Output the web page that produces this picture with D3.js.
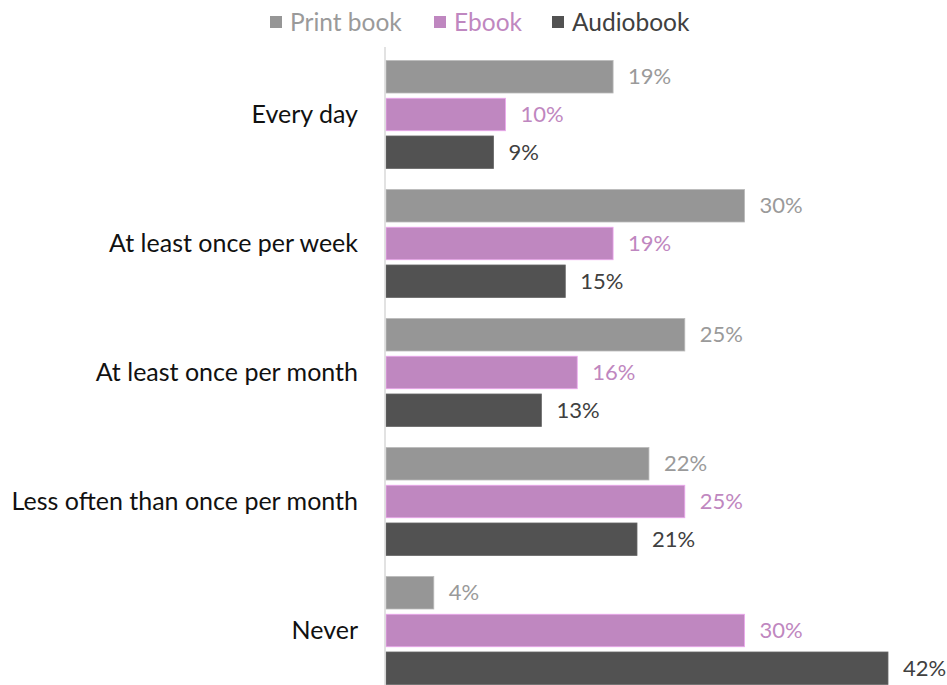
<!DOCTYPE html>
<html>
<head>
<meta charset="utf-8">
<script src="https://cdn.jsdelivr.net/npm/d3@7"></script>
<style>
  html, body { margin: 0; padding: 0; background: #fff; }
  svg text { font-family: Lato, "Open Sans", sans-serif; }
</style>
</head>
<body>
<svg id="chart" width="947" height="685"></svg>
<script>
// Reading frequency by format (share of respondents, %)
const categories = [
  "Every day",
  "At least once per week",
  "At least once per month",
  "Less often than once per month",
  "Never"
];
const seriesNames = ["Print book", "Ebook", "Audiobook"];
const printBook = [19, 30, 25, 22, 4];
const ebook     = [10, 19, 16, 25, 30];
const audiobook = [9, 15, 13, 21, 42];

const seriesValues = [printBook, ebook, audiobook];
const barColors   = ["#969696", "#bf87c0", "#525252"];
const labelColors = ["#9a9a9a", "#bf87c0", "#404040"];

const svg = d3.select("#chart");
const x0 = 386;

const x = d3.scaleLinear().domain([0, 42]).range([x0, x0 + 502]);
const y = d3.scaleBand().domain(categories).range([50, 695]).paddingInner(0).paddingOuter(0);
const yInner = d3.scaleBand().domain(seriesNames).range([10.5, y.bandwidth() - 10.5]).paddingInner(5 / 36).paddingOuter(0);

// bars and value labels
categories.forEach((cat, ci) => {
  const g = svg.append("g").attr("transform", `translate(0,${y(cat)})`);
  seriesNames.forEach((s, si) => {
    const v = seriesValues[si][ci];
    g.append("rect")
      .attr("x", x(0))
      .attr("y", yInner(s))
      .attr("width", x(v) - x(0))
      .attr("height", yInner.bandwidth())
      .attr("fill", barColors[si])
      .attr("stroke", d3.color(barColors[si]).brighter(0.6))
      .attr("stroke-width", 0.8);
    g.append("text")
      .attr("x", x(v) + 15)
      .attr("y", yInner(s) + yInner.bandwidth() / 2)
      .attr("dy", "0.35em")
      .attr("font-size", 22)
      .attr("fill", labelColors[si])
      .text(v + "%");
  });
});

// category axis
const yAxis = d3.axisLeft(y).tickSize(0).tickPadding(27);
const ax = svg.append("g").attr("transform", `translate(${x0 - 1},0)`).call(yAxis);
ax.select(".domain").remove();
ax.selectAll("text").attr("font-size", 25).attr("fill", "#111").attr("dy", "0.35em");
svg.append("line")
  .attr("x1", x0 - 1).attr("x2", x0 - 1)
  .attr("y1", 47).attr("y2", 685)
  .attr("stroke", "#d9d9d9").attr("stroke-width", 1.5);

// legend
const legendX = [270, 434, 552];
seriesNames.forEach((s, si) => {
  const lg = svg.append("g").attr("transform", `translate(${legendX[si]},22)`);
  lg.append("rect").attr("x", 0).attr("y", -6).attr("width", 12).attr("height", 12).attr("fill", barColors[si]);
  lg.append("text").attr("x", 20).attr("y", 0).attr("dy", "0.35em")
    .attr("font-size", 24.5).attr("fill", labelColors[si]).text(s);
});
</script>
</body>
</html>
